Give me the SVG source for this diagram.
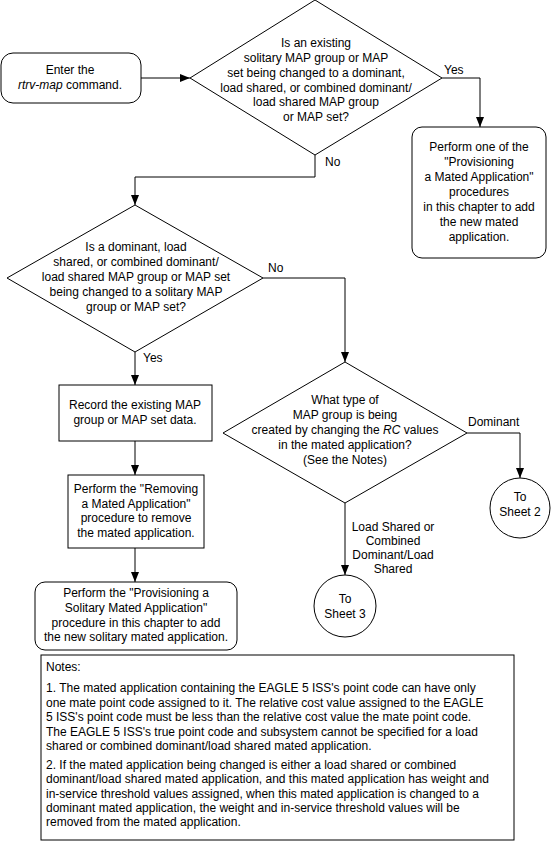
<svg xmlns="http://www.w3.org/2000/svg" width="553" height="842" viewBox="0 0 553 842">
<defs>
<marker id="arr" viewBox="0 0 10 10" refX="10" refY="5" markerWidth="10" markerHeight="10" markerUnits="userSpaceOnUse" orient="auto">
<path d="M0,1 L10,5 L0,9 Z" fill="#000"/>
</marker>
<style>
.s{fill:#fff;stroke:#000;stroke-width:1}
.t{font-family:"Liberation Sans",Arial,sans-serif;font-size:12px;fill:#000;text-anchor:middle}
.l{font-family:"Liberation Sans",Arial,sans-serif;font-size:12px;fill:#000}
.c{fill:none;stroke:#000;stroke-width:1;marker-end:url(#arr)}
</style>
</defs>
<rect width="553" height="842" fill="#fff"/>
<g id="connectors">
<path class="c" d="M141,78 H190"/>
<path class="c" d="M442,78 H480 V127"/>
<path class="c" d="M315,155 V177 H135 V205"/>
<path class="c" d="M263,278 H345 V362"/>
<path class="c" d="M135,352 V385"/>
<path class="c" d="M135,441 V475"/>
<path class="c" d="M135,548 V582"/>
<path class="c" d="M467,433 H520 V478"/>
<path class="c" d="M345,503 V575"/>
<text class="l" x="444" y="74">Yes</text>
<text class="l" x="325" y="166">No</text>
<text class="l" x="268" y="272">No</text>
<text class="l" x="143" y="362">Yes</text>
<text class="l" x="468" y="426">Dominant</text>
<text class="t" x="393" y="531">Load Shared or</text>
<text class="t" x="393" y="545">Combined</text>
<text class="t" x="393" y="559">Dominant/Load</text>
<text class="t" x="393" y="573">Shared</text>
</g>
<g id="start">
<rect class="s" x="1" y="53" width="140" height="50" rx="12"/>
<text class="t" x="70" y="74">Enter the</text>
<text class="t" x="70" y="89"><tspan font-style="italic">rtrv-map</tspan> command.</text>
</g>
<g id="decision1">
<polygon class="s" points="315,0 442,78 315,155 190,78"/>
<text class="t" x="316" y="47">Is an existing</text>
<text class="t" x="316" y="62">solitary MAP group or MAP</text>
<text class="t" x="316" y="77">set being changed to a dominant,</text>
<text class="t" x="316" y="92">load shared, or combined dominant/</text>
<text class="t" x="316" y="106">load shared MAP group</text>
<text class="t" x="316" y="121">or MAP set?</text>
</g>
<g id="provisioning">
<rect class="s" x="412" y="127" width="134" height="131" rx="10"/>
<text class="t" x="479" y="151">Perform one of the</text>
<text class="t" x="479" y="166">"Provisioning</text>
<text class="t" x="479" y="181">a Mated Application"</text>
<text class="t" x="479" y="196">procedures</text>
<text class="t" x="479" y="211">in this chapter to add</text>
<text class="t" x="479" y="226">the new mated</text>
<text class="t" x="479" y="241">application.</text>
</g>
<g id="decision2">
<polygon class="s" points="135,205 263,278 135,352 7,278"/>
<text class="t" x="136" y="251">Is a dominant, load</text>
<text class="t" x="136" y="266">shared, or combined dominant/</text>
<text class="t" x="136" y="281">load shared MAP group or MAP set</text>
<text class="t" x="136" y="296">being changed to a solitary MAP</text>
<text class="t" x="136" y="311">group or MAP set?</text>
</g>
<g id="record">
<rect class="s" x="59" y="385" width="153" height="56"/>
<text class="t" x="135" y="409">Record the existing MAP</text>
<text class="t" x="135" y="424">group or MAP set data.</text>
</g>
<g id="removing">
<rect class="s" x="68" y="475" width="136" height="73"/>
<text class="t" x="136" y="493">Perform the "Removing</text>
<text class="t" x="136" y="508">a Mated Application"</text>
<text class="t" x="136" y="522">procedure to remove</text>
<text class="t" x="136" y="537">the mated application.</text>
</g>
<g id="solitary">
<rect class="s" x="35" y="582" width="202" height="68" rx="10"/>
<text class="t" x="136" y="597">Perform the "Provisioning a</text>
<text class="t" x="136" y="612">Solitary Mated Application"</text>
<text class="t" x="136" y="627">procedure in this chapter to add</text>
<text class="t" x="136" y="641">the new solitary mated application.</text>
</g>
<g id="decision3">
<polygon class="s" points="345,362 467,433 345,503 223,433"/>
<text class="t" x="345" y="404">What type of</text>
<text class="t" x="345" y="419">MAP group is being</text>
<text class="t" x="345" y="434">created by changing the <tspan font-style="italic">RC</tspan> values</text>
<text class="t" x="345" y="449">in the mated application?</text>
<text class="t" x="345" y="464">(See the Notes)</text>
</g>
<g id="sheet2">
<circle class="s" cx="520" cy="508" r="30"/>
<text class="t" x="520" y="501">To</text>
<text class="t" x="520" y="516">Sheet 2</text>
</g>
<g id="sheet3">
<circle class="s" cx="345" cy="606" r="31"/>
<text class="t" x="345" y="603">To</text>
<text class="t" x="345" y="618">Sheet 3</text>
</g>
<g id="notes">
<rect class="s" x="41" y="655" width="473" height="185"/>
<text class="l" x="46" y="671">Notes:</text>
<text class="l" x="46" y="692">1. The mated application containing the EAGLE 5 ISS's point code can have only</text>
<text class="l" x="46" y="707">one mate point code assigned to it.  The relative cost value assigned to the EAGLE</text>
<text class="l" x="46" y="721">5 ISS's point code must be less than the relative cost value the mate point code.</text>
<text class="l" x="46" y="736">The EAGLE 5 ISS's true point code and subsystem cannot be specified for a load</text>
<text class="l" x="46" y="750">shared or combined dominant/load shared mated application.</text>
<text class="l" x="46" y="769">2. If the mated application being changed is either a load shared or combined</text>
<text class="l" x="46" y="783">dominant/load shared mated application, and this mated application has weight and</text>
<text class="l" x="46" y="798">in-service threshold values assigned, when this mated application is changed to a</text>
<text class="l" x="46" y="812">dominant mated application, the weight and in-service threshold values will be</text>
<text class="l" x="46" y="826">removed from the mated application.</text>
</g>
</svg>
